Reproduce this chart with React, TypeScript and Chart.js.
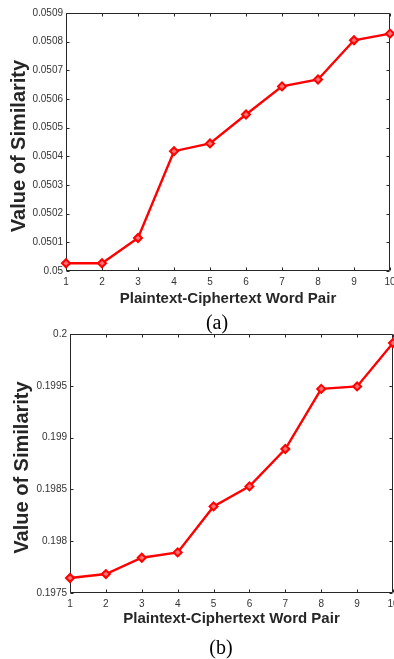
import React, { useEffect, useRef } from 'react';
import { Chart, registerables } from 'chart.js';

Chart.register(...registerables);

// Word pairs on the horizontal axis
const wordPairs = ['1', '2', '3', '4', '5', '6', '7', '8', '9', '10'];

// Similarity values, experiment (a)
const similarityA = [0.050027, 0.050027, 0.050115, 0.050418, 0.050445, 0.050546, 0.050644, 0.050668, 0.050805, 0.050828];
const yTicksA = [0.05, 0.0501, 0.0502, 0.0503, 0.0504, 0.0505, 0.0506, 0.0507, 0.0508, 0.0509];
const yTickLabelsA = ['0.05', '0.0501', '0.0502', '0.0503', '0.0504', '0.0505', '0.0506', '0.0507', '0.0508', '0.0509'];

// Similarity values, experiment (b)
const similarityB = [0.197645, 0.197683, 0.19784, 0.197892, 0.198336, 0.198529, 0.19889, 0.19947, 0.199494, 0.199913];
const yTicksB = [0.1975, 0.198, 0.1985, 0.199, 0.1995, 0.2];
const yTickLabelsB = ['0.1975', '0.198', '0.1985', '0.199', '0.1995', '0.2'];

const SANS = '"Liberation Sans", Arial, Helvetica, sans-serif';
const AXIS_COLOR = '#262626';
const TICK_LEN = 3;

// Boxed axes with inward tick marks
const framePlugin = {
  id: 'boxFrame',
  beforeDatasetsDraw(chart: any) {
    const { ctx, chartArea } = chart;
    const { left, right, top, bottom } = chartArea;
    const xs = chart.scales.x;
    const ys = chart.scales.y;
    ctx.save();
    ctx.strokeStyle = AXIS_COLOR;
    ctx.lineWidth = 1;
    const L = Math.round(left) + 0.5;
    const R = Math.round(right) - 0.5;
    const T = Math.round(top) + 0.5;
    const B = Math.round(bottom) - 0.5;
    ctx.beginPath();
    ctx.rect(L, T, R - L, B - T);
    xs.ticks.forEach((_t: any, i: number) => {
      const px = Math.round(xs.getPixelForTick(i)) + 0.5;
      ctx.moveTo(px, B);
      ctx.lineTo(px, B - TICK_LEN);
      ctx.moveTo(px, T);
      ctx.lineTo(px, T + TICK_LEN);
    });
    ys.ticks.forEach((t: any) => {
      const py = Math.round(ys.getPixelForValue(t.value)) + 0.5;
      ctx.moveTo(L, py);
      ctx.lineTo(L + TICK_LEN, py);
      ctx.moveTo(R, py);
      ctx.lineTo(R - TICK_LEN, py);
    });
    ctx.stroke();
    ctx.restore();
  },
};

// Rotated y-axis label
const yLabelPlugin = {
  id: 'yLabel',
  afterDraw(chart: any, _args: any, opts: any) {
    const { ctx, chartArea } = chart;
    ctx.save();
    ctx.translate(chartArea.left + opts.dx, (chartArea.top + chartArea.bottom) / 2 + opts.dy);
    ctx.rotate(-Math.PI / 2);
    ctx.font = `bold 20px ${SANS}`;
    ctx.fillStyle = AXIS_COLOR;
    ctx.textAlign = 'center';
    ctx.textBaseline = 'middle';
    ctx.fillText(opts.text, 0, 0);
    ctx.restore();
  },
};

type PlotProps = {
  values: number[];
  yTicks: number[];
  yTickLabels: string[];
  top: number;
  padTop: number;
  padRight: number;
  yAxisWidth: number;
  xAxisHeight: number;
  labelDx: number;
};

const CANVAS_W = 394;
const CANVAS_H = 310;

function SimilarityPlot(p: PlotProps) {
  const ref = useRef<HTMLCanvasElement>(null);

  useEffect(() => {
    const chart = new Chart(ref.current as HTMLCanvasElement, {
      type: 'line',
      data: {
        labels: wordPairs,
        datasets: [
          {
            data: p.values,
            borderColor: '#ff0000',
            borderWidth: 2.4,
            tension: 0,
            pointStyle: 'rectRot',
            pointRadius: 4,
            pointBorderWidth: 2,
            pointBorderColor: '#ff0000',
            pointBackgroundColor: '#ff7070',
            clip: false,
          } as any,
        ],
      },
      options: {
        responsive: false,
        animation: false,
        layout: {
          padding: { top: p.padTop, right: p.padRight, left: 0, bottom: 0 },
          autoPadding: false,
        } as any,
        plugins: {
          legend: { display: false },
          tooltip: { enabled: false },
          yLabel: { text: 'Value of Similarity', dx: p.labelDx, dy: 4 },
        } as any,
        scales: {
          x: {
            type: 'category',
            offset: false,
            grid: { display: false, drawTicks: false },
            border: { display: false },
            ticks: {
              font: { family: SANS, size: 10 },
              color: '#333333',
              padding: 5,
              maxRotation: 0,
              autoSkip: false,
            },
            title: {
              display: true,
              text: 'Plaintext-Ciphertext Word Pair',
              font: { family: SANS, size: 15, weight: 'bold' },
              color: AXIS_COLOR,
              padding: { top: 0, bottom: 2 },
            },
            afterFit: (s: any) => {
              s.height = p.xAxisHeight;
              s.paddingLeft = 0;
              s.paddingRight = 0;
            },
          },
          y: {
            type: 'linear',
            min: p.yTicks[0],
            max: p.yTicks[p.yTicks.length - 1],
            grid: { display: false, drawTicks: false },
            border: { display: false },
            ticks: {
              font: { family: SANS, size: 10 },
              color: '#333333',
              padding: 3,
              callback: (_v: any, i: number) => p.yTickLabels[i],
            },
            afterBuildTicks: (s: any) => {
              s.ticks = p.yTicks.map((value) => ({ value }));
            },
            afterFit: (s: any) => {
              s.width = p.yAxisWidth;
              s.paddingTop = 0;
              s.paddingBottom = 0;
            },
          },
        },
      } as any,
      plugins: [framePlugin, yLabelPlugin],
    });
    return () => chart.destroy();
  }, []);

  return (
    <canvas
      ref={ref}
      width={CANVAS_W}
      height={CANVAS_H}
      style={{ position: 'absolute', left: 0, top: p.top, width: CANVAS_W, height: CANVAS_H }}
    />
  );
}

const captionStyle: React.CSSProperties = {
  position: 'absolute',
  fontFamily: '"Liberation Serif", "Times New Roman", serif',
  fontSize: 20,
  lineHeight: '20px',
  color: '#000',
  transform: 'translateX(-50%)',
  whiteSpace: 'nowrap',
};

export default function App() {
  return (
    <div
      style={{
        position: 'absolute',
        left: 0,
        top: 0,
        width: 394,
        height: 659,
        background: '#ffffff',
        overflow: 'hidden',
      }}
    >
      <SimilarityPlot
        values={similarityA}
        yTicks={yTicksA}
        yTickLabels={yTickLabelsA}
        top={0}
        padTop={13}
        padRight={4}
        yAxisWidth={66}
        xAxisHeight={39}
        labelDx={-47}
      />
      <SimilarityPlot
        values={similarityB}
        yTicks={yTicksB}
        yTickLabels={yTickLabelsB}
        top={320}
        padTop={14}
        padRight={1}
        yAxisWidth={70}
        xAxisHeight={37}
        labelDx={-48}
      />
      <div style={{ ...captionStyle, left: 217, top: 312 }}>(a)</div>
      <div style={{ ...captionStyle, left: 221, top: 637 }}>(b)</div>
    </div>
  );
}
